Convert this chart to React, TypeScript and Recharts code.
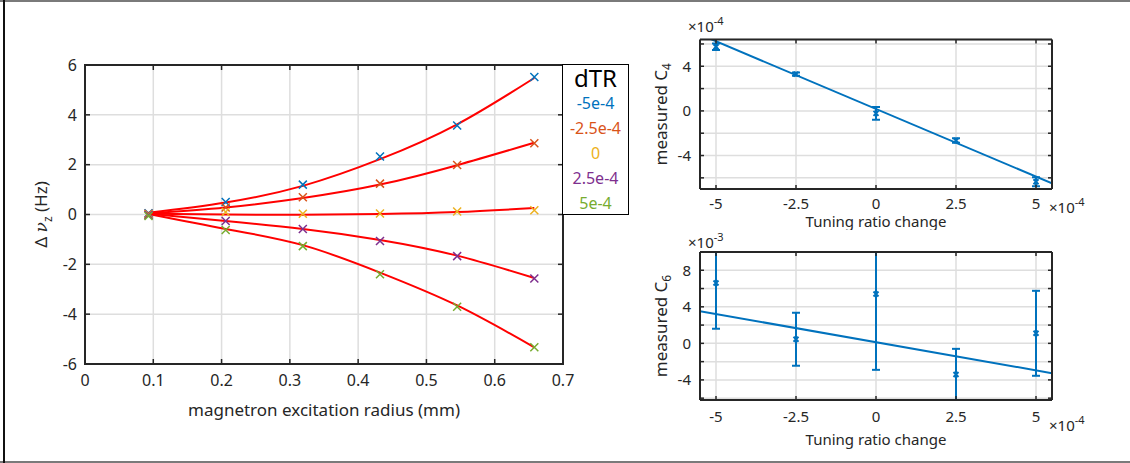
import React from "react";
import {
  ComposedChart,
  Line,
  Scatter,
  XAxis,
  YAxis,
  CartesianGrid,
  ErrorBar,
  ReferenceArea,
} from "recharts";

const FONT = '"Noto Sans", sans-serif';
const INK = "#262626";
const GRID = "#dedede";

// left panel: axial frequency shift vs magnetron excitation radius
const radius = [0.093, 0.206, 0.319, 0.432, 0.545, 0.658];
const dtrLabels = ["-5e-4", "-2.5e-4", "0", "2.5e-4", "5e-4"];
const dtrColors = ["#0072bd", "#d95319", "#edb120", "#7e2f8e", "#77ac30"];

const shiftM5 = [0.05, 0.5, 1.2, 2.33, 3.57, 5.52];
const shiftM25 = [0.03, 0.28, 0.69, 1.24, 1.99, 2.86];
const shift0 = [0.0, 0.1, 0.03, 0.04, 0.12, 0.17];
const shiftP25 = [-0.02, -0.26, -0.58, -1.06, -1.67, -2.57];
const shiftP5 = [-0.06, -0.62, -1.27, -2.4, -3.7, -5.33];

const fitM5 = [0.07, 0.48, 1.15, 2.22, 3.62, 5.48];
const fitM25 = [0.05, 0.28, 0.66, 1.2, 1.98, 2.88];
const fit0 = [0.03, 0.0, -0.01, 0.02, 0.1, 0.26];
const fitP25 = [0.03, -0.26, -0.58, -1.02, -1.65, -2.55];
const fitP5 = [0.02, -0.58, -1.23, -2.33, -3.65, -5.33];

const radiusTicks = [0, 0.1, 0.2, 0.3, 0.4, 0.5, 0.6, 0.7];
const shiftTicks = [-6, -4, -2, 0, 2, 4, 6];

// right panels: fitted coefficients vs tuning ratio change (x in units of 1e-4)
const tuningChange = [-5, -2.5, 0, 2.5, 5];
const tuningTicks = [-5, -2.5, 0, 2.5, 5];
const fitEnds = [-5.5, 5.5];

const c4Value = [5.75, 3.3, -0.22, -2.66, -6.35]; // x1e-4
const c4Error = [0.3, 0.15, 0.57, 0.2, 0.41];
const c4Fit = [6.85, -6.5];
const c4Ticks = [-6, -4, -2, 0, 2, 4, 6];

const c6Value = [6.6, 0.45, 5.4, -3.4, 1.1]; // x1e-3
const c6Error = [5.0, 2.9, 8.3, 2.8, 4.65];
const c6Fit = [3.52, -3.26];
const c6Ticks = [-6, -4, -2, 0, 2, 4, 6, 8, 10];

const measured = [shiftM5, shiftM25, shift0, shiftP25, shiftP5];
const fitted = [fitM5, fitM25, fit0, fitP25, fitP5];

const toRows = (values: number[]) => radius.map((r, i) => ({ r, y: values[i] }));

const crossShape = (color: string, h: number, w: number) => (p: any) => (
  <path
    d={`M${p.cx - h},${p.cy - h}L${p.cx + h},${p.cy + h}M${p.cx - h},${p.cy + h}L${p.cx + h},${p.cy - h}`}
    stroke={color}
    strokeWidth={w}
    fill="none"
  />
);

function ShiftYLabel(props: any) {
  const vb = props.viewBox;
  const x = vb.x + vb.width - 38;
  const y = vb.y + vb.height / 2;
  return (
    <text
      x={x}
      y={y}
      transform={`rotate(-90 ${x} ${y})`}
      textAnchor="middle"
      fontFamily={FONT}
      fontSize={17}
      fill={INK}
    >
      Δ{" "}
      <tspan fontFamily='"DejaVu Serif", serif' fontStyle="italic">
        ν
      </tspan>
      <tspan dy={5} fontSize={12}>
        z
      </tspan>
      <tspan dy={-5}> (Hz)</tspan>
    </text>
  );
}

function ShiftXLabel(props: any) {
  const vb = props.viewBox;
  return (
    <text
      x={vb.x + vb.width / 2}
      y={vb.y + 52}
      textAnchor="middle"
      fontFamily={FONT}
      fontSize={17}
      fill={INK}
    >
      magnetron excitation radius (mm)
    </text>
  );
}

function ShiftChart() {
  const tickStyle = { fill: INK, fontSize: 16, fontFamily: FONT };
  const axisLine = { stroke: INK, strokeWidth: 2 };
  const tickLine = { stroke: INK, strokeWidth: 1.5 };
  return (
    <ComposedChart width={640} height={463} margin={{ top: 64, right: 76, bottom: 49, left: 45 }}>
      <CartesianGrid stroke={GRID} strokeWidth={1.5} />
      <XAxis
        dataKey="r"
        type="number"
        domain={[0, 0.7]}
        ticks={radiusTicks}
        allowDataOverflow
        height={50}
        tickSize={-5}
        tickMargin={16}
        axisLine={axisLine}
        tickLine={tickLine}
        tick={tickStyle}
        label={(p: any) => <ShiftXLabel viewBox={p.viewBox} />}
      />
      <XAxis
        xAxisId="top"
        orientation="top"
        dataKey="r"
        type="number"
        domain={[0, 0.7]}
        ticks={radiusTicks}
        allowDataOverflow
        height={1}
        tickSize={-5}
        tickFormatter={() => ""}
        axisLine={axisLine}
        tickLine={tickLine}
      />
      <YAxis
        type="number"
        domain={[-6, 6]}
        ticks={shiftTicks}
        allowDataOverflow
        width={40}
        tickSize={-5}
        tickMargin={13}
        axisLine={axisLine}
        tickLine={tickLine}
        tick={tickStyle}
        label={(p: any) => <ShiftYLabel viewBox={p.viewBox} />}
      />
      <YAxis
        yAxisId="right"
        orientation="right"
        type="number"
        domain={[-6, 6]}
        ticks={shiftTicks}
        allowDataOverflow
        width={1}
        tickSize={-5}
        tickFormatter={() => ""}
        axisLine={axisLine}
        tickLine={tickLine}
      />
      {/* axes box */}
      <ReferenceArea
        x1={0}
        x2={0.7}
        y1={-6}
        y2={6}
        fill="none"
        fillOpacity={0}
        stroke={INK}
        strokeWidth={2}
      />
      {measured.map((s, k) => (
        <Scatter
          key={"m" + k}
          data={toRows(s)}
          dataKey="y"
          fill={dtrColors[k]}
          shape={crossShape(dtrColors[k], 4, 1.5)}
          isAnimationActive={false}
        />
      ))}
      {/* fits use the mirrored (same-domain) top/right axes */}
      {fitted.map((s, k) => (
        <Line
          key={"f" + k}
          data={toRows(s)}
          dataKey="y"
          xAxisId="top"
          yAxisId="right"
          type="natural"
          stroke="#ff0000"
          strokeWidth={2}
          dot={false}
          activeDot={false}
          isAnimationActive={false}
        />
      ))}
    </ComposedChart>
  );
}

function Exponent({ x, y, power }: { x: number; y: number; power: string }) {
  return (
    <text x={x} y={y} fontFamily={FONT} fontSize={15} fill={INK}>
      ×10
      <tspan dy={-7} fontSize={11}>
        {power}
      </tspan>
    </text>
  );
}

interface CoefPanelProps {
  top: number;
  height: number;
  margin: { top: number; right: number; bottom: number; left: number };
  xAxisHeight: number;
  values: number[];
  errors: number[];
  fit: number[];
  yDomain: [number, number];
  yTicks: number[];
  sub: string;
  power: string;
  xTickMargin: number;
  xLabelDy: number;
  bottomExpDy: number;
  topExpDy: number;
}

const Y_AXIS_W = 50;
const PANEL_W = 530;

function CoefPanel(p: CoefPanelProps) {
  const rows = tuningChange.map((x, i) => ({ x, y: p.values[i], err: p.errors[i] }));
  const fitRows = fitEnds.map((x, i) => ({ x, y: p.fit[i] }));
  const tickStyle = { fill: INK, fontSize: 15, fontFamily: FONT };
  const axisLine = { stroke: INK, strokeWidth: 2 };
  const tickLine = { stroke: INK, strokeWidth: 1.5 };
  const color = "#0072bd";

  // error bars are clipped to the plot area like the rest of the series
  const clipId = "coef-clip-" + p.sub;
  const plotX = p.margin.left + Y_AXIS_W;
  const plotY = p.margin.top + 1;
  const plotW = PANEL_W - plotX - 1 - p.margin.right;
  const plotH = p.height - plotY - p.margin.bottom - p.xAxisHeight;

  const yLabel = (lp: any) => {
    const vb = lp.viewBox;
    const x = vb.x + vb.width - 33;
    const y = vb.y + vb.height / 2;
    return (
      <g>
        <text
          x={x}
          y={y}
          transform={`rotate(-90 ${x} ${y})`}
          textAnchor="middle"
          fontFamily={FONT}
          fontSize={17}
          fill={INK}
        >
          measured C
          <tspan dy={4} fontSize={12}>
            {p.sub}
          </tspan>
        </text>
        <Exponent x={vb.x + vb.width - 12} y={vb.y + p.topExpDy} power={p.power} />
      </g>
    );
  };

  const xLabel = (lp: any) => {
    const vb = lp.viewBox;
    return (
      <g>
        <text
          x={vb.x + vb.width / 2}
          y={vb.y + p.xLabelDy}
          textAnchor="middle"
          fontFamily={FONT}
          fontSize={15}
          fill={INK}
        >
          Tuning ratio change
        </text>
        <Exponent x={vb.x + vb.width - 3} y={vb.y + p.bottomExpDy} power="-4" />
      </g>
    );
  };

  return (
    <div className={"coef-" + p.sub} style={{ position: "absolute", left: 600, top: p.top }}>
      <style>{`.coef-${p.sub} .recharts-errorBars, .coef-${p.sub} .recharts-errorBar { clip-path: url(#${clipId}); }`}</style>
      <svg width={0} height={0} style={{ position: "absolute" }}>
        <defs>
          <clipPath id={clipId}>
            <rect x={plotX} y={plotY} width={plotW} height={plotH} />
          </clipPath>
        </defs>
      </svg>
      <ComposedChart width={PANEL_W} height={p.height} margin={p.margin}>
        <CartesianGrid stroke={GRID} strokeWidth={1.5} />
        <XAxis
          dataKey="x"
          type="number"
          domain={[-5.5, 5.5]}
          ticks={tuningTicks}
          allowDataOverflow
          height={p.xAxisHeight}
          tickSize={-4}
          tickMargin={p.xTickMargin}
          axisLine={axisLine}
          tickLine={tickLine}
          tick={tickStyle}
          label={xLabel}
        />
        <XAxis
          xAxisId="top"
          orientation="top"
          dataKey="x"
          type="number"
          domain={[-5.5, 5.5]}
          ticks={tuningTicks}
          allowDataOverflow
          height={1}
          tickSize={-4}
          tickFormatter={() => ""}
          axisLine={axisLine}
          tickLine={tickLine}
        />
        <YAxis
          type="number"
          domain={p.yDomain}
          ticks={p.yTicks}
          allowDataOverflow
          width={Y_AXIS_W}
          tickSize={-4}
          tickMargin={13}
          tickFormatter={(v: number) => (v % 4 === 0 ? String(v) : "")}
          axisLine={axisLine}
          tickLine={tickLine}
          tick={tickStyle}
          label={yLabel}
        />
        <YAxis
          yAxisId="right"
          orientation="right"
          type="number"
          domain={p.yDomain}
          ticks={p.yTicks}
          allowDataOverflow
          width={1}
          tickSize={-4}
          tickFormatter={() => ""}
          axisLine={axisLine}
          tickLine={tickLine}
        />
        {/* the fit line uses the mirrored (same-domain) top/right axes */}
        <Line
          data={fitRows}
          dataKey="y"
          xAxisId="top"
          yAxisId="right"
          type="linear"
          stroke={color}
          strokeWidth={2}
          dot={false}
          activeDot={false}
          isAnimationActive={false}
        />
        <Scatter
          data={rows}
          dataKey="y"
          fill={color}
          shape={crossShape(color, 2.5, 2)}
          isAnimationActive={false}
        >
          <ErrorBar
            dataKey="err"
            direction="y"
            width={4}
            stroke={color}
            strokeWidth={2}
            isAnimationActive={false}
          />
        </Scatter>
      </ComposedChart>
    </div>
  );
}

function DtrLegend() {
  return (
    <div
      style={{
        position: "absolute",
        left: 562,
        top: 64,
        width: 67,
        height: 151,
        boxSizing: "border-box",
        border: "1.5px solid #000",
        background: "#fff",
        fontFamily: FONT,
        textAlign: "center",
      }}
    >
      <div style={{ fontSize: 24, lineHeight: "26px", color: "#000" }}>dTR</div>
      {dtrLabels.map((label, k) => (
        <div key={label} style={{ fontSize: 16, lineHeight: "25px", color: dtrColors[k] }}>
          {label}
        </div>
      ))}
    </div>
  );
}

export default function App() {
  return (
    <div
      style={{
        position: "absolute",
        left: 0,
        top: 0,
        width: 1130,
        height: 463,
        background: "#fff",
        overflow: "hidden",
      }}
    >
      <div style={{ position: "absolute", left: 0, top: 0 }}>
        <ShiftChart />
      </div>
      <DtrLegend />
      <CoefPanel
        top={0}
        height={230}
        margin={{ top: 38.5, right: 77, bottom: 1, left: 50 }}
        xAxisHeight={40}
        values={c4Value}
        errors={c4Error}
        fit={c4Fit}
        yDomain={[-7, 6.4]}
        yTicks={c4Ticks}
        sub="4"
        power="-4"
        xTickMargin={13}
        xLabelDy={38}
        bottomExpDy={24}
        topExpDy={-8}
      />
      <CoefPanel
        top={230}
        height={233}
        margin={{ top: 21, right: 77, bottom: 18, left: 50 }}
        xAxisHeight={45}
        values={c6Value}
        errors={c6Error}
        fit={c6Fit}
        yDomain={[-6.2, 10]}
        yTicks={c6Ticks}
        sub="6"
        power="-3"
        xTickMargin={15}
        xLabelDy={45}
        bottomExpDy={31}
        topExpDy={-4}
      />
      <div style={{ position: "absolute", left: 0, top: 0, width: 1130, height: 2, background: "#7a7a7a" }} />
      <div style={{ position: "absolute", left: 0, top: 461, width: 1130, height: 2, background: "#7a7a7a" }} />
      <div style={{ position: "absolute", left: 3, top: 0, width: 2, height: 463, background: "#111" }} />
    </div>
  );
}
